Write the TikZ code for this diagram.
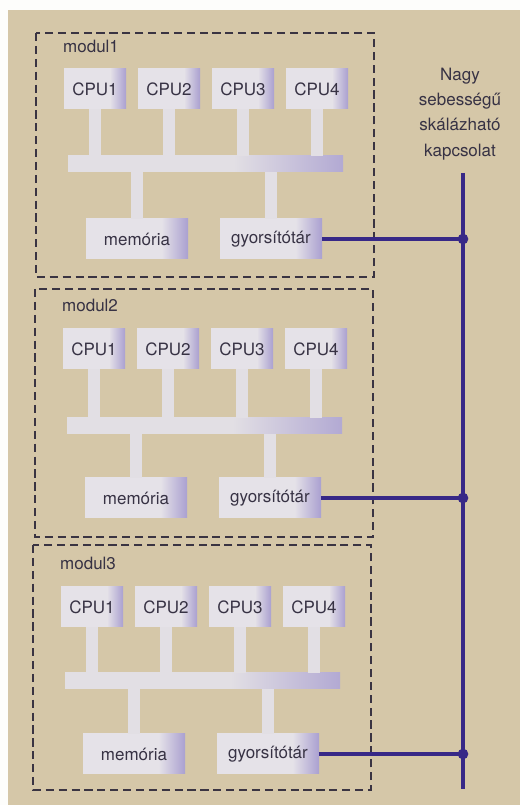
\documentclass[tikz,border=0pt]{standalone}
\usepackage{fontspec}
\setmainfont{TeX Gyre Heros}
\usetikzlibrary{positioning}
\definecolor{panel}{RGB}{213,199,168}
\definecolor{boxwhite}{RGB}{229,226,232}
\definecolor{boxlilac}{RGB}{170,160,208}
\definecolor{stemgray}{RGB}{226,223,228}
\definecolor{linkblue}{RGB}{55,40,135}
\definecolor{ink}{RGB}{55,50,68}
\definecolor{dashgray}{RGB}{58,52,66}
\pgfdeclarehorizontalshading{boxshade}{100bp}{color(0bp)=(boxwhite); color(25bp)=(boxwhite); color(62bp)=(boxwhite); color(75bp)=(boxlilac); color(100bp)=(boxlilac)}
\pgfdeclarehorizontalshading{busshade}{100bp}{color(0bp)=(stemgray); color(25bp)=(stemgray); color(55bp)=(stemgray); color(75bp)=(boxlilac!85!stemgray); color(100bp)=(boxlilac!85!stemgray)}

\begin{document}
\begin{tikzpicture}[
  font=\fontsize{14.5}{17}\selectfont,
  cpu/.style={rectangle,shading=boxshade,text=ink,minimum width=1.86cm,minimum height=1.2cm,inner sep=0pt},
  unit/.style={cpu,minimum width=3.06cm},
  bus/.style={rectangle,shading=busshade,minimum width=8.25cm,minimum height=0.48cm,inner sep=0pt},
  stem/.style={stemgray,line width=10pt},
  modbox/.style={dashgray,line width=1.6pt,dash pattern=on 7pt off 4pt},
  link/.style={linkblue,line width=2.6pt},
  lab/.style={text=ink},
]
\useasboundingbox (0,0) rectangle (15.6,24.15);
\fill[white!96!panel] (0,0) rectangle (15.6,24.15);
\fill[panel] (0.24,0) rectangle (15.6,23.85);
% the interconnect on the right
\coordinate (ltop) at (13.89,18.96);
\coordinate (lbot) at (13.89,0.48);
\draw[link] (ltop) -- (lbot);
\node[lab,align=center,font=\fontsize{14.5}{21.5}\selectfont] (nagy) at (13.8,20.73) {Nagy\\sebességű\\skálázható\\kapcsolat};
% modul1
\draw[modbox] (1.08,23.16) rectangle (11.22,15.84);
\node[lab,anchor=west,inner sep=0pt] (m1lab) at (1.89,22.77) {modul1};
\node[cpu] (m1c1) at (2.85,21.48) {CPU1};
\node[cpu] (m1c2) at (5.07,21.48) {CPU2};
\node[cpu] (m1c3) at (7.29,21.48) {CPU3};
\node[cpu] (m1c4) at (9.51,21.48) {CPU4};
\node[bus] (m1bus) at (6.165,19.23) {};
\node[unit] (m1mem) at (4.11,16.98) {memória};
\node[unit] (m1gy) at (8.13,16.98) {gyorsítótár};
\draw[stem] (m1c1.south) -- (m1c1.south |- m1bus.north);
\draw[stem] (m1c2.south) -- (m1c2.south |- m1bus.north);
\draw[stem] (m1c3.south) -- (m1c3.south |- m1bus.north);
\draw[stem] (m1c4.south) -- (m1c4.south |- m1bus.north);
\draw[stem] (m1mem.north) -- (m1mem.north |- m1bus.south);
\draw[stem] (m1gy.north) -- (m1gy.north |- m1bus.south);
\coordinate (m1dot) at (13.89,16.98);
\draw[link] (m1gy) -- (m1dot); \fill[linkblue] (m1dot) circle (0.16);
% modul2
\draw[modbox] (1.05,15.48) rectangle (11.19,8.04);
\node[lab,anchor=west,inner sep=0pt] (m2lab) at (1.86,15.0) {modul2};
\node[cpu] (m2c1) at (2.82,13.68) {CPU1};
\node[cpu] (m2c2) at (5.04,13.68) {CPU2};
\node[cpu] (m2c3) at (7.26,13.68) {CPU3};
\node[cpu] (m2c4) at (9.48,13.68) {CPU4};
\node[bus] (m2bus) at (6.135,11.37) {};
\node[unit] (m2mem) at (4.08,9.21) {memória};
\node[unit] (m2gy) at (8.10,9.21) {gyorsítótár};
\draw[stem] (m2c1.south) -- (m2c1.south |- m2bus.north);
\draw[stem] (m2c2.south) -- (m2c2.south |- m2bus.north);
\draw[stem] (m2c3.south) -- (m2c3.south |- m2bus.north);
\draw[stem] (m2c4.south) -- (m2c4.south |- m2bus.north);
\draw[stem] (m2mem.north) -- (m2mem.north |- m2bus.south);
\draw[stem] (m2gy.north) -- (m2gy.north |- m2bus.south);
\coordinate (m2dot) at (13.89,9.21);
\draw[link] (m2gy) -- (m2dot); \fill[linkblue] (m2dot) circle (0.16);
% modul3
\draw[modbox] (0.99,7.80) rectangle (11.13,0.45);
\node[lab,anchor=west,inner sep=0pt] (m3lab) at (1.80,7.26) {modul3};
\node[cpu] (m3c1) at (2.76,5.94) {CPU1};
\node[cpu] (m3c2) at (4.98,5.94) {CPU2};
\node[cpu] (m3c3) at (7.20,5.94) {CPU3};
\node[cpu] (m3c4) at (9.42,5.94) {CPU4};
\node[bus] (m3bus) at (6.075,3.72) {};
\node[unit] (m3mem) at (4.02,1.53) {memória};
\node[unit] (m3gy) at (8.04,1.53) {gyorsítótár};
\draw[stem] (m3c1.south) -- (m3c1.south |- m3bus.north);
\draw[stem] (m3c2.south) -- (m3c2.south |- m3bus.north);
\draw[stem] (m3c3.south) -- (m3c3.south |- m3bus.north);
\draw[stem] (m3c4.south) -- (m3c4.south |- m3bus.north);
\draw[stem] (m3mem.north) -- (m3mem.north |- m3bus.south);
\draw[stem] (m3gy.north) -- (m3gy.north |- m3bus.south);
\coordinate (m3dot) at (13.89,1.53);
\draw[link] (m3gy) -- (m3dot); \fill[linkblue] (m3dot) circle (0.16);
\end{tikzpicture}
\end{document}
